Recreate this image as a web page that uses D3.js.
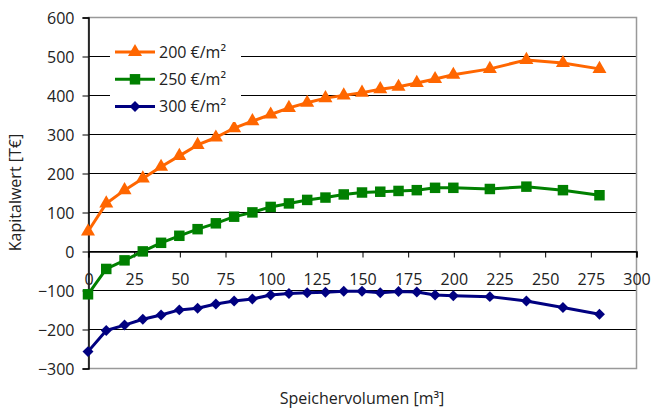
<!DOCTYPE html>
<html><head><meta charset="utf-8">
<script src="https://cdn.jsdelivr.net/npm/d3@7"></script>
<style>
body{margin:0;background:#fff;}
text{font-family:"Open Sans",sans-serif;fill:#222;}
</style></head>
<body><svg id="c" width="654" height="412"></svg>
<script>
const xValues = [0,10,20,30,40,50,60,70,80,90,100,110,120,130,140,150,160,170,180,190,200,220,240,260,280];
const s200 = [50,122,156,186,216,244,272,291,315,333,350,367,380,392,399,406,415,421,431,441,452,467,490,482,467];
const s250 = [-111,-46,-24,-1,21,39,56,71,88,99,113,122,131,137,145,150,152,154,156,162,162,159,165,156,143];
const s300 = [-258,-204,-190,-175,-164,-151,-147,-136,-128,-123,-113,-109,-107,-106,-103,-103,-107,-104,-105,-113,-115,-117,-128,-145,-162];
const seriesNames = ["200 €/m²","250 €/m²","300 €/m²"];
const xTicks = [0,25,50,75,100,125,150,175,200,225,250,275,300];
const yTicks = [600,500,400,300,200,100,0,-100,-200,-300];
const xTitle = "Speichervolumen [m³]";
const yTitle = "Kapitalwert [T€]";

const svg = d3.select("#c");
const L=88,R=636,T=17,B=368;
const x = d3.scaleLinear().domain([0,300]).range([L,R]);
const y = d3.scaleLinear().domain([-300,600]).range([B,T]);

// gridlines
svg.append("g").selectAll("line").data(yTicks.filter(v=>v!==600&&v!==-300)).join("line")
  .attr("x1",L).attr("x2",R).attr("y1",d=>Math.round(y(d))+0.5).attr("y2",d=>Math.round(y(d))+0.5)
  .attr("stroke","#000").attr("stroke-width",1);
// plot border
svg.append("rect").attr("x",L+0.5).attr("y",Math.round(T)+0.5).attr("width",R-L).attr("height",Math.round(B-T))
  .attr("fill","none").attr("stroke","#999").attr("stroke-width",1.5);

// y axis
const yAxis = d3.axisLeft(y).tickValues(yTicks).tickSize(6).tickPadding(8).tickFormat(d3.format("d"));
const gy = svg.append("g").attr("transform",`translate(${L+0.5},0.5)`).call(yAxis);
gy.select(".domain").attr("stroke","#000").attr("stroke-width",1.5);
gy.selectAll(".tick line").attr("stroke","#000");
gy.selectAll(".tick text").style("font-size","16px").style("font-family","'Open Sans',sans-serif").attr("fill","#222").attr("dy","0.35em");

// x axis at y=0
const xAxis = d3.axisBottom(x).tickValues(xTicks).tickSize(6).tickPadding(16).tickFormat(d3.format("d"));
const gx = svg.append("g").attr("transform",`translate(0.5,${Math.round(y(0))+0.5})`).call(xAxis);
gx.select(".domain").attr("stroke","#000").attr("stroke-width",1.5);
gx.selectAll(".tick line").attr("stroke","#000");
gx.selectAll(".tick text").style("font-size","16px").style("font-family","'Open Sans',sans-serif").attr("fill","#222");

// titles
svg.append("text").attr("x",(L+R)/2).attr("y",404).attr("text-anchor","middle").style("font-size","16px").text(xTitle);
svg.append("text").attr("transform",`translate(21,${(T+B)/2}) rotate(-90)`).attr("text-anchor","middle").style("font-size","16px").text(yTitle);

const colors = ["#FF6600","#008000","#000080"];
const data = [s200,s250,s300];
const tri = d3.symbol().type(d3.symbolTriangle).size(85);
const sq = d3.symbol().type(d3.symbolSquare).size(110);
const wideDiamond = { draw(ctx, size){ const r=Math.sqrt(size/2); ctx.moveTo(0,-r); ctx.lineTo(r,0); ctx.lineTo(0,r); ctx.lineTo(-r,0); ctx.closePath(); } };
const dia = d3.symbol().type(wideDiamond).size(60);
const shapes = [tri,sq,dia];
const line = d3.line().x(d=>x(d[0])).y(d=>y(d[1]));

data.forEach((s,i)=>{
  const pts = xValues.map((v,j)=>[v,s[j]]);
  svg.append("path").attr("d",line(pts)).attr("fill","none").attr("stroke",colors[i]).attr("stroke-width",3).attr("stroke-linejoin","round");
  svg.append("g").selectAll("path").data(pts).join("path")
    .attr("d",shapes[i]()).attr("transform",d=>`translate(${x(d[0])},${y(d[1])})`)
    .attr("fill",colors[i]);
});

// legend
const lg = svg.append("g");
lg.append("rect").attr("x",110).attr("y",37).attr("width",131).attr("height",85).attr("fill","#fff");
seriesNames.forEach((n,i)=>{
  const yy = 52 + i*27.3;
  lg.append("line").attr("x1",115).attr("x2",155).attr("y1",yy).attr("y2",yy).attr("stroke",colors[i]).attr("stroke-width",3);
  lg.append("path").attr("d",shapes[i]()).attr("transform",`translate(135,${yy})`).attr("fill",colors[i]);
  lg.append("text").attr("x",159).attr("y",yy).attr("dy","0.35em").style("font-size","16px").text(n);
});
</script></body></html>
